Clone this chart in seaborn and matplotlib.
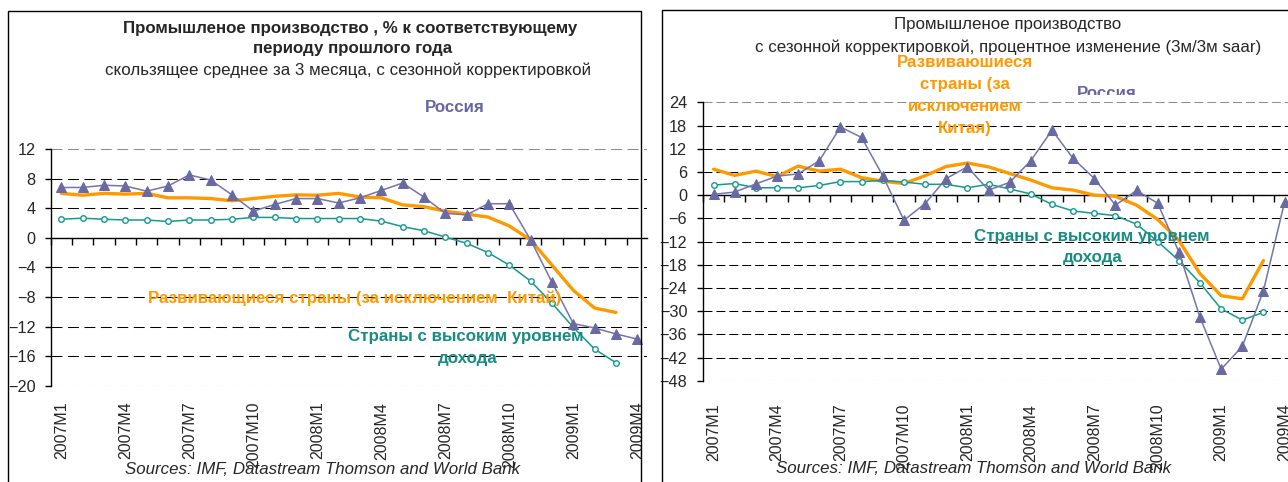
import numpy as np
import pandas as pd
import matplotlib
matplotlib.use("Agg")
import matplotlib.pyplot as plt
import seaborn as sns
from matplotlib.patches import Rectangle

# ---------------- data ----------------
months = ["2007M1", "2007M2", "2007M3", "2007M4", "2007M5", "2007M6", "2007M7",
          "2007M8", "2007M9", "2007M10", "2007M11", "2007M12", "2008M1", "2008M2",
          "2008M3", "2008M4", "2008M5", "2008M6", "2008M7", "2008M8", "2008M9",
          "2008M10", "2008M11", "2008M12", "2009M1", "2009M2", "2009M3", "2009M4"]
tick_labels = months[::3]

# left: y/y, 3-month moving average
russia_yoy = [6.8, 6.8, 7.1, 7.0, 6.3, 7.0, 8.5, 7.8, 5.8, 3.6, 4.5, 5.3, 5.3, 4.7,
              5.4, 6.4, 7.4, 5.5, 3.3, 3.1, 4.6, 4.6, -0.3, -6.0, -11.6, -12.2, -13.0, -13.7]
developing_yoy = [6.0, 5.75, 6.0, 5.9, 6.0, 5.4, 5.4, 5.3, 5.0, 5.3, 5.6, 5.8, 5.75, 6.0,
                  5.5, 5.4, 4.45, 4.2, 3.6, 3.2, 2.8, 1.6, -0.3, -3.7, -7.1, -9.5, -10.1]
high_income_yoy = [2.5, 2.65, 2.5, 2.4, 2.4, 2.2, 2.4, 2.4, 2.5, 2.75, 2.75, 2.6, 2.6, 2.6,
                   2.6, 2.25, 1.5, 0.95, 0.1, -0.75, -2.0, -3.7, -5.85, -8.85, -12.1, -15.05, -16.9]

# right: 3m/3m saar
russia_saar = [0.2, 0.8, 2.9, 4.9, 5.5, 8.9, 17.6, 14.9, 5.0, -6.5, -2.2, 4.3, 7.3, 1.3,
               3.3, 8.9, 16.8, 9.5, 4.3, -2.6, 1.2, -2.1, -14.7, -31.6, -45.0, -39.1, -24.7, -1.7]
developing_saar = [6.7, 5.1, 6.2, 4.8, 7.5, 6.2, 6.7, 4.5, 3.6, 3.0, 5.0, 7.4, 8.3, 7.3,
                   5.6, 3.9, 1.9, 1.3, 0.0, -0.3, -2.6, -6.3, -11.7, -20.3, -26.0, -26.8, -16.9]
high_income_saar = [2.6, 3.0, 1.9, 1.9, 1.9, 2.5, 3.5, 3.5, 3.8, 3.4, 2.8, 2.8, 1.9, 2.8,
                    1.6, 0.3, -2.4, -4.1, -4.7, -5.3, -7.5, -12.0, -16.9, -22.7, -29.4, -32.3, -30.3]

# ---------------- style ----------------
sns.set_style("white")
plt.rcParams["font.family"] = ["Liberation Sans", "DejaVu Sans"]

W, H = 1288, 482
fig = plt.figure(figsize=(W / 100, H / 100), dpi=100)


def fx(x):
    return x / W


def fy(y):
    return 1 - y / H


C_RUS_LINE = "#7474AE"
C_RUS_MARK = "#6A6AA2"
C_RUS_TEXT = "#6666A3"
C_ORANGE = "#FF9900"
C_TEAL = "#149A8E"
C_TEAL_TEXT = "#178C82"


def setup_axes(ax, ymin, ymax, ystep, xmax, dash, xpad, ypad):
    ax.set_yticks(np.arange(ymin, ymax + 1, ystep))
    ax.yaxis.grid(True, color="black", linestyle=(0, dash), linewidth=0.75)
    gl = ax.get_ygridlines()
    gl[0].set_color("#8c8c8c")
    gl[-1].set_color("#8c8c8c")
    ax.xaxis.grid(False)
    for s in ["top", "right"]:
        ax.spines[s].set_visible(False)
    ax.spines["left"].set_color("black")
    ax.spines["left"].set_linewidth(1.0)
    ax.spines["bottom"].set_position(("data", 0))
    ax.spines["bottom"].set_color("black")
    ax.spines["bottom"].set_linewidth(1.0)
    ax.set_xticks(np.arange(-0.5, len(months), 1))
    ax.set_xticklabels([])
    ax.tick_params(axis="x", direction="out", length=5, width=1, color="black", bottom=True)
    ax.tick_params(axis="y", direction="out", length=4, width=1, color="black",
                   left=True, pad=ypad, labelsize=11.7)
    sec = ax.secondary_xaxis("bottom")
    sec.set_xticks(np.arange(len(months))[::3], labels=tick_labels)
    sec.tick_params(length=0, pad=xpad, labelsize=11.5, labelrotation=90)
    sec.spines["bottom"].set_visible(False)
    ax.set_xlabel("")
    ax.set_ylabel("")
    # limits last, so that tick setting does not widen them
    ax.set_ylim(ymin, ymax)
    ax.set_xlim(-0.5, xmax)


def draw_series(ax, rus, dev, high, orange_lw):
    x_r = np.arange(len(rus))
    x_d = np.arange(len(dev))
    x_h = np.arange(len(high))
    sns.lineplot(x=x_d, y=dev, ax=ax, color=C_ORANGE, linewidth=orange_lw, zorder=3)
    sns.lineplot(x=x_h, y=high, ax=ax, color=C_TEAL, linewidth=1.1, marker="o",
                 markersize=4, markerfacecolor="white", markeredgecolor=C_TEAL,
                 markeredgewidth=1.0, zorder=4)
    sns.lineplot(x=x_r, y=rus, ax=ax, color=C_RUS_LINE, linewidth=1.1, marker="^",
                 markersize=7.5, markerfacecolor=C_RUS_MARK, markeredgecolor=C_RUS_MARK,
                 zorder=5)


# ---------------- left panel ----------------
axL = fig.add_axes([fx(50.7), fy(385.7), fx(646.7) - fx(50.7), fy(149) - fy(385.7)])
axL.patch.set_alpha(0)
draw_series(axL, russia_yoy, developing_yoy, high_income_yoy, 2.4)
setup_axes(axL, -20, 12, 4, -0.5 + (646.7 - 50.7) / 21.33, (10.5, 5.3), 11.5, 6.8)

# ---------------- right panel ----------------
axR = fig.add_axes([fx(703), fy(380.8), fx(1288) - fx(703), fy(102.3) - fy(380.8)])
axR.patch.set_alpha(0)
draw_series(axR, russia_saar, developing_saar, high_income_saar, 2.4)
setup_axes(axR, -48, 24, 6, -0.5 + (1288 - 703) / 21.15, (8.6, 3.8), 16.5, 7.3)

# ---------------- texts ----------------
fs = 12.2
fig.text(fx(350.5), fy(28), "Промышленое производство , % к соответствующему",
         ha="center", va="center", fontsize=fs, fontweight="bold")
fig.text(fx(353), fy(49), "периоду прошлого года",
         ha="center", va="center", fontsize=fs, fontweight="bold")
fig.text(fx(348), fy(70.5), "скользящее среднее за 3 месяца, с сезонной корректировкой",
         ha="center", va="center", fontsize=fs)
fig.text(fx(455), fy(108), "Россия", ha="center", va="center", fontsize=fs,
         fontweight="bold", color=C_RUS_TEXT)
fig.text(fx(355), fy(298), "Развивающиеся страны (за исключением  Китай)",
         ha="center", va="center", fontsize=fs, fontweight="bold", color=C_ORANGE)
fig.text(fx(466), fy(336), "Страны с высоким уровнем", ha="center", va="center",
         fontsize=fs, fontweight="bold", color=C_TEAL_TEXT)
fig.text(fx(468), fy(359), "дохода", ha="center", va="center",
         fontsize=fs, fontweight="bold", color=C_TEAL_TEXT)
fig.text(fx(323), fy(469.5), "Sources: IMF, Datastream Thomson and World Bank",
         ha="center", va="center", fontsize=fs, style="italic")

fig.text(fx(1008), fy(25), "Промышленое производство", ha="center", va="center", fontsize=fs)
fig.text(fx(1008.5), fy(47), "с сезонной корректировкой, процентное изменение (3м/3м saar)",
         ha="center", va="center", fontsize=fs)
for txt, yy in [("Развиваюшиеся", 62.3), ("страны (за", 84.5),
                ("исключением", 106.7), ("Китая)", 128.3)]:
    fig.text(fx(965), fy(yy), txt, ha="center", va="center", fontsize=fs,
             fontweight="bold", color=C_ORANGE, zorder=6)
fig.text(fx(1107), fy(93.5), "Россия", ha="center", va="center", fontsize=fs,
         fontweight="bold", color=C_RUS_TEXT, zorder=3)
fig.patches.append(Rectangle((fx(1060), fy(101.5)), fx(1160) - fx(1060), fy(95) - fy(101.5),
                             transform=fig.transFigure, facecolor="white",
                             edgecolor="none", zorder=4))
fig.text(fx(1091.5), fy(236), "Страны с высоким уровнем", ha="center", va="center",
         fontsize=fs, fontweight="bold", color=C_TEAL_TEXT, zorder=6)
fig.text(fx(1093), fy(257.5), "дохода", ha="center", va="center",
         fontsize=fs, fontweight="bold", color=C_TEAL_TEXT, zorder=6)
fig.text(fx(974), fy(468.5), "Sources: IMF, Datastream Thomson and World Bank",
         ha="center", va="center", fontsize=fs, style="italic")

# ---------------- panel frames ----------------
fig.patches.append(Rectangle((fx(8.3), fy(495)), fx(640.7) - fx(8.3), fy(10.7) - fy(495),
                             transform=fig.transFigure, fill=False, edgecolor="black",
                             linewidth=1.0, zorder=10))
fig.patches.append(Rectangle((fx(661.7), fy(495)), fx(1300) - fx(661.7), fy(10.5) - fy(495),
                             transform=fig.transFigure, fill=False, edgecolor="black",
                             linewidth=1.0, zorder=10))

fig.savefig("out.png", dpi=100)
